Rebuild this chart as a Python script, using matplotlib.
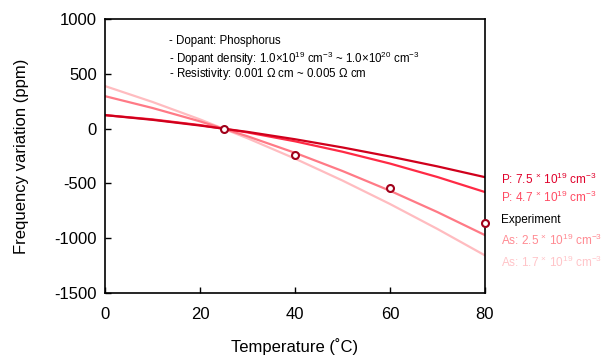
import matplotlib
matplotlib.use("Agg")
import matplotlib.pyplot as plt

plt.rcParams['font.family'] = ['Liberation Sans', 'DejaVu Sans']
plt.rcParams['mathtext.fontset'] = 'custom'
plt.rcParams['mathtext.rm'] = 'Liberation Sans'
plt.rcParams['mathtext.it'] = 'Liberation Sans'
plt.rcParams['mathtext.default'] = 'regular'
plt.rcParams['axes.unicode_minus'] = False

temps = [0, 10, 20, 30, 40, 50, 60, 70, 80]
p_75 = [123, 80, 28, -30, -97, -172, -255, -345, -443]
p_47 = [123, 84, 32, -35, -116, -211, -319, -442, -579]
as_25 = [296, 188, 66, -70, -221, -387, -567, -762, -972]
as_17 = [388, 243, 84, -88, -274, -474, -688, -916, -1157]

exp_t = [25, 40, 60, 80]
exp_v = [0, -239, -546, -865]

series_labels = [r"P: 7.5 $^{\times}$ 10$^{19}$ cm$^{-3}$",
                 r"P: 4.7 $^{\times}$ 10$^{19}$ cm$^{-3}$",
                 "Experiment",
                 r"As: 2.5 $^{\times}$ 10$^{19}$ cm$^{-3}$",
                 r"As: 1.7 $^{\times}$ 10$^{19}$ cm$^{-3}$"]
label_y = [-463, -631, -838, -1017, -1224]

notes = ["- Dopant: Phosphorus",
         r"- Dopant density: 1.0$\times$10$^{19}$ cm$^{-3}$ ~ 1.0$\times$10$^{20}$ cm$^{-3}$",
         r"- Resistivity: 0.001 $\Omega$ cm ~ 0.005 $\Omega$ cm"]
note_y = [795, 640, 497]

fig = plt.figure(figsize=(6.05, 3.56), dpi=100)
ax = fig.add_axes([0.1736, 0.177, 0.628, 0.7696])

line_colors = ['#d0001c', '#ff2a45', '#ff7a86', '#ffbcc0']
label_colors = ['#e0002a', '#ff4a62', 'black', '#ff8a92', '#ffc4c8']

for vals, c in zip([as_17, as_25, p_47, p_75], line_colors[::-1]):
    ax.plot(temps, vals, color=c, lw=1.6, zorder=2)

ax.plot(exp_t, exp_v, linestyle='none', marker='o', markersize=5,
        markerfacecolor='white', markeredgecolor='#a0001a', markeredgewidth=1.5,
        zorder=4, clip_on=False)

for txt, y, c in zip(series_labels, label_y, label_colors):
    ax.text(83.4, y, txt, color=c, fontsize=8.5, va='center', ha='left', clip_on=False)

for txt, y in zip(notes, note_y):
    ax.text(13.5, y, txt, fontsize=8.3, va='center', ha='left')

ax.set_xlim(0, 80)
ax.set_ylim(-1500, 1000)
ax.set_xticks([0, 20, 40, 60, 80])
ax.set_yticks([-1500, -1000, -500, 0, 500, 1000])
ax.tick_params(direction='in', length=4, width=1, labelsize=12, pad=6)
ax.tick_params(axis='x', pad=10)
for s in ax.spines.values():
    s.set_linewidth(1.2)

ax.set_xlabel("Temperature (˚C)", fontsize=12, labelpad=12)
ax.set_ylabel("Frequency variation (ppm)", fontsize=12, labelpad=18)

fig.savefig("out.png", dpi=100)
